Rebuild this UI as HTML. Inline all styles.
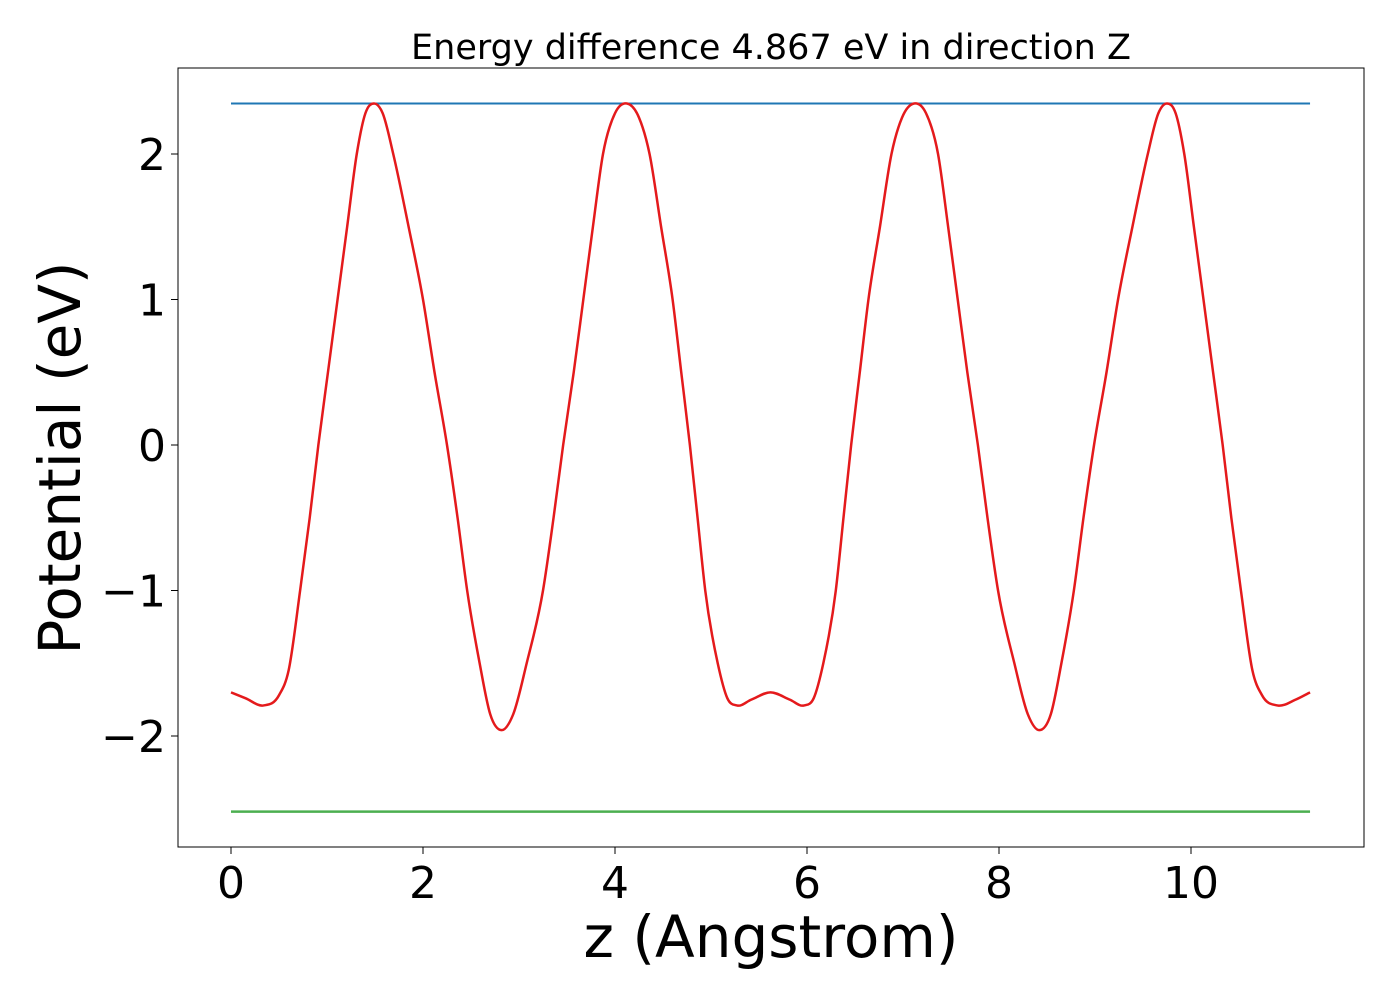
<!DOCTYPE html>
<html><head><meta charset="utf-8"><style>
body{margin:0;background:#fff;}
svg text{font-family:"DejaVu Sans","Liberation Sans",sans-serif;}
</style></head><body>
<svg id="chart" width="1400" height="1000" xmlns="http://www.w3.org/2000/svg"></svg>
<script>
const xTicks=[0,2,4,6,8,10];
const yTicks=[-2,-1,0,1,2];
const yTickLabels=["\u22122","\u22121","0","1","2"];
const zValues=[0,0.15,0.34,0.5,0.6,0.72,0.82,0.91,1.01,1.11,1.21,1.31,1.40,1.49,1.58,1.69,1.85,2.0,2.12,2.25,2.36,2.46,2.59,2.70,2.82,2.94,3.08,3.25,3.36,3.46,3.57,3.67,3.77,3.875,4.0,4.125,4.25,4.36,4.48,4.6,4.69,4.78,4.86,4.94,5.07,5.17,5.27,5.42,5.62,5.82,5.97,6.07,6.17,6.30,6.38,6.46,6.55,6.64,6.76,6.88,6.99,7.115,7.24,7.365,7.47,7.57,7.67,7.78,7.88,7.99,8.16,8.30,8.42,8.54,8.65,8.78,8.88,8.99,9.12,9.24,9.39,9.55,9.66,9.75,9.84,9.93,10.03,10.13,10.23,10.33,10.42,10.52,10.64,10.74,10.90,11.09,11.24];
const potential=[-1.70,-1.74,-1.79,-1.72,-1.55,-1.0,-0.5,0,0.5,1.0,1.5,2.0,2.28,2.347,2.28,2.0,1.5,1.0,0.5,0,-0.5,-1.0,-1.5,-1.85,-1.96,-1.85,-1.5,-1.0,-0.5,0,0.5,1.0,1.5,2.0,2.28,2.347,2.25,2.0,1.5,1.0,0.5,0,-0.5,-1.0,-1.5,-1.74,-1.79,-1.75,-1.70,-1.75,-1.79,-1.74,-1.5,-1.0,-0.5,0,0.5,1.0,1.5,2.0,2.25,2.347,2.28,2.0,1.5,1.0,0.5,0,-0.5,-1.0,-1.5,-1.85,-1.96,-1.85,-1.5,-1.0,-0.5,0,0.5,1.0,1.5,2.0,2.28,2.347,2.28,2.0,1.5,1.0,0.5,0,-0.5,-1.0,-1.55,-1.72,-1.79,-1.75,-1.70];
const vacuumLevel=2.347;
const bulkLevel=-2.52;
const zRange=[0,11.24];

const svg=document.getElementById('chart');
const NS='http://www.w3.org/2000/svg';
const L=178,R=1364,T=68,B=847;
const X=v=>231+v*96;
const Y=v=>445-v*145.5;
function mk(tag,attrs,parent){const e=document.createElementNS(NS,tag);for(const k in attrs)e.setAttribute(k,attrs[k]);(parent||svg).appendChild(e);return e;}

const frame=mk('rect',{x:L,y:T,width:R-L,height:B-T,fill:'none',stroke:'#000','stroke-width':1});



const title=mk('text',{x:771,y:59,'font-size':'35','text-anchor':'middle',fill:'#000'});
title.textContent='Energy difference 4.867 eV in direction Z';



xTicks.forEach(t=>{
  const l=mk('line',{x1:X(t),x2:X(t),y1:B,y2:B+7,stroke:'#000','stroke-width':1});
  
  
  const tx=mk('text',{x:X(t),y:B+51,'font-size':'44','text-anchor':'middle',fill:'#000'});
  tx.textContent=String(t);
  
  
});
yTicks.forEach((t,i)=>{
  const l=mk('line',{x1:L-7,x2:L,y1:Y(t),y2:Y(t),stroke:'#000','stroke-width':1});
  
  
  const tx=mk('text',{x:L-12,y:Y(t)+16,'font-size':'44','text-anchor':'end',fill:'#000'});
  tx.textContent=yTickLabels[i];
  
  
});

const xl=mk('text',{x:771,y:957,'font-size':'58','text-anchor':'middle',fill:'#000'});
xl.textContent='z (Angstrom)';


const yl=mk('text',{x:0,y:0,'font-size':'58','text-anchor':'middle',fill:'#000',transform:'translate(80,458) rotate(-90)'});
yl.textContent='Potential (eV)';



const vl=mk('line',{x1:X(zRange[0]),x2:X(zRange[1]),y1:Y(vacuumLevel),y2:Y(vacuumLevel),stroke:'#1f77b4','stroke-width':2});


const bl=mk('line',{x1:X(zRange[0]),x2:X(zRange[1]),y1:Y(bulkLevel),y2:Y(bulkLevel),stroke:'#4caf50','stroke-width':2.5});



// non-uniform Hermite spline in x
const n=zValues.length;
const m=[];
for(let i=0;i<n;i++){
  if(i===0) m.push((potential[1]-potential[0])/(zValues[1]-zValues[0]));
  else if(i===n-1) m.push((potential[n-1]-potential[n-2])/(zValues[n-1]-zValues[n-2]));
  else {
    const h0=zValues[i]-zValues[i-1],h1=zValues[i+1]-zValues[i];
    const d0=(potential[i]-potential[i-1])/h0,d1=(potential[i+1]-potential[i])/h1;
    m.push((d0*h1+d1*h0)/(h0+h1));
  }
}
let d='M'+X(zValues[0])+','+Y(potential[0]);
for(let i=0;i<n-1;i++){
  const h=zValues[i+1]-zValues[i];
  const x1=zValues[i]+h/3,y1=potential[i]+m[i]*h/3;
  const x2=zValues[i+1]-h/3,y2=potential[i+1]-m[i+1]*h/3;
  d+=' C'+X(x1)+','+Y(y1)+' '+X(x2)+','+Y(y2)+' '+X(zValues[i+1])+','+Y(potential[i+1]);
}
const curve=mk('path',{d:d,fill:'none',stroke:'#e41a1c','stroke-width':2.5});


</script>
</body></html>
